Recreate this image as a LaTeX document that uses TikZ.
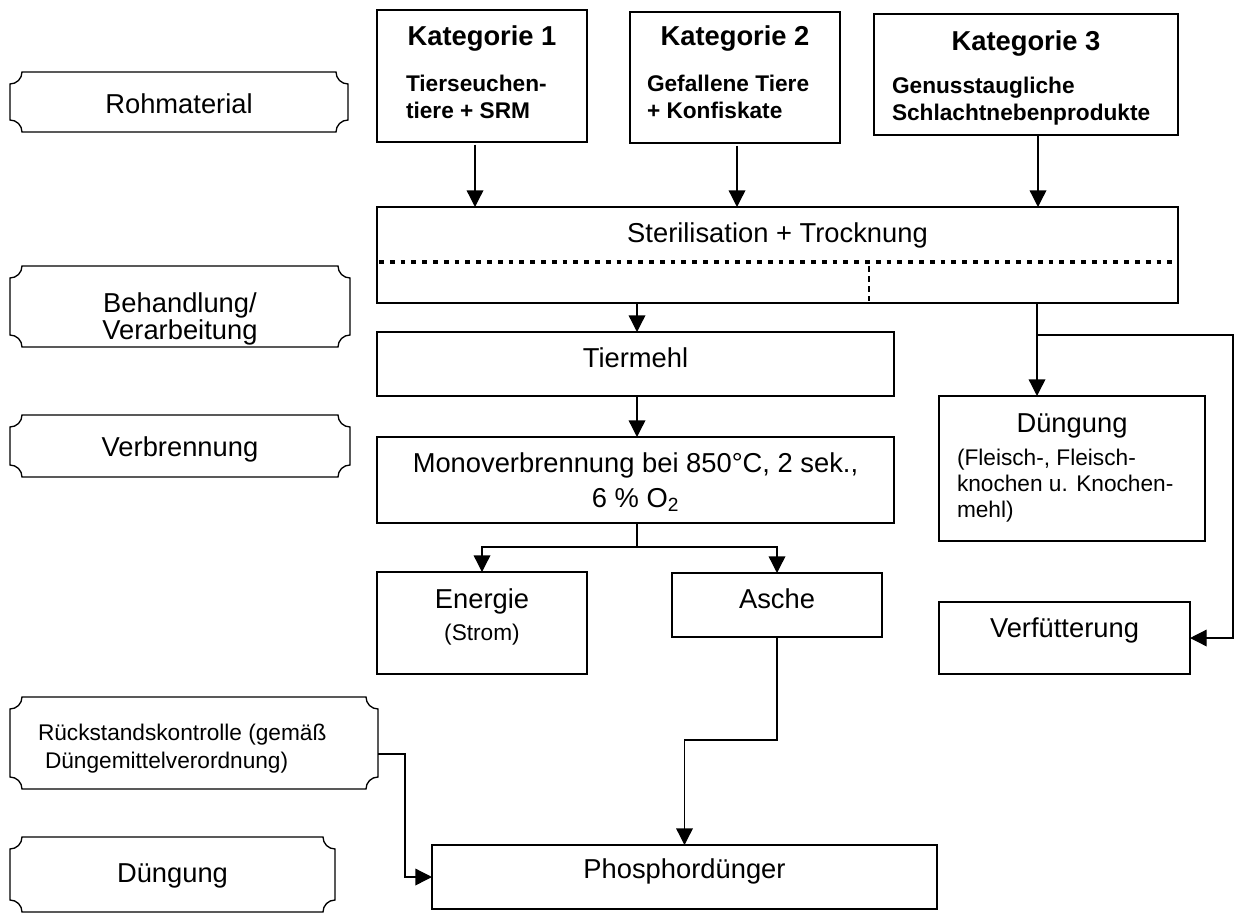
\documentclass[tikz,border=0pt]{standalone}
\usepackage{fontspec}
\setmainfont{Liberation Sans}
\usetikzlibrary{arrows.meta}
\newcommand\fN{\fontsize{20.5}{24}\selectfont}
\newcommand\fS{\fontsize{17}{20}\selectfont}
\newcommand\fT{\fontsize{20.5}{24}\selectfont\bfseries}
\newcommand\fB{\fontsize{17}{20}\selectfont\bfseries}
% centred line: #1 = distance (px) from previous baseline / top, #2 = text
\newcommand\Lc[2]{\vspace*{\dimexpr #1pt*3/4\relax}\hbox to\linewidth{\hfil\smash{#2}\hfil}}
% left line: #1 = distance (px), #2 = left inset (px), #3 = text
\newcommand\Ll[3]{\vspace*{\dimexpr #1pt*3/4\relax}\hbox to\linewidth{\kern\dimexpr #2pt*3/4\relax\smash{#3}\hfil}}
% box: [style]{name}{x1}{y1}{x2}{y2}{lines}
\newcommand\bx[7][]{%
  \pgfmathsetlengthmacro\mybw{(#5-#3)*0.75pt}%
  \pgfmathsetlengthmacro\mybh{(#6-#4)*0.75pt}%
  \node[box,#1] (#2) at ({(#3+#5)/2},{(#4+#6)/2})
    {\parbox[c][\mybh][t]{\mybw}{\offinterlineskip#7}};%
}
% plaque outline with concave corners around a node
\newcommand\plq[1]{%
  \draw[line width=1pt]
    ([xshift=9pt]#1.north west) -- ([xshift=-9pt]#1.north east)
    arc[start angle=180,end angle=270,radius=9pt]
    -- ([yshift=9pt]#1.south east)
    arc[start angle=90,end angle=180,radius=9pt]
    -- ([xshift=9pt]#1.south west)
    arc[start angle=0,end angle=90,radius=9pt]
    -- ([yshift=-9pt]#1.north west)
    arc[start angle=270,end angle=360,radius=9pt] -- cycle;}
\begin{document}
\begin{tikzpicture}[x=0.75pt,y=-0.75pt,
  box/.style={rectangle,draw,line width=1pt,inner sep=0pt,outer sep=0pt},
  plaque/.style={draw=none},
  arr/.style={line width=1pt,-{Triangle[length=12.5pt,width=12.5pt]}},
  conn/.style={line width=1pt},
  dotrow/.style={line width=3.6pt,dash pattern=on 3.6pt off 4.5pt},
  dashcol/.style={line width=2pt,dash pattern=on 4.5pt off 3pt}]
\useasboundingbox (0,0) rectangle (1234,914);

% left-hand plaques
\bx[plaque]{roh}{10}{72}{348}{132}{\Lc{41}{\fN Rohmaterial}}
\bx[plaque]{beh}{10}{266}{350}{347}{\Lc{46}{\fN Behandlung/}\Lc{27}{\fN Verarbeitung}}
\bx[plaque]{ver}{10}{415}{350}{477}{\Lc{41}{\fN Verbrennung}}
\bx[plaque]{rk}{10}{697}{378}{789}{\Ll{43}{28}{\fS Rückstandskontrolle (gemäß}\Ll{28}{35}{\fS Düngemittelverordnung)}}
\bx[plaque]{dgl}{10}{837}{335}{912}{\Lc{45}{\fN Düngung}}
\plq{roh}\plq{beh}\plq{ver}\plq{rk}\plq{dgl}

% process boxes
\bx{k1}{377}{10}{587}{142}{\Lc{35}{\fT Kategorie 1}\Ll{46}{29}{\fB Tierseuchen-}\Ll{27}{29}{\fB tiere + SRM}}
\bx{k2}{630}{12}{840}{143}{\Lc{33}{\fT Kategorie 2}\Ll{46}{17}{\fB Gefallene Tiere}\Ll{27}{17}{\fB + Konfiskate}}
\bx{k3}{874}{14}{1178}{135}{\Lc{36}{\fT Kategorie 3}\Ll{43}{18}{\fB Genusstaugliche}\Ll{27}{18}{\fB Schlachtnebenprodukte}}
\bx{st}{377}{207}{1178}{303}{\Lc{35}{\fN Sterilisation + Trocknung}}
\bx{tm}{377}{332}{894}{396}{\Lc{35}{\fN Tiermehl}}
\bx{mv}{377}{437}{894}{523}{\Lc{35}{\fN Monoverbrennung bei 850°C, 2 sek.,}\Lc{35}{\fN 6 \% O\textsubscript{2}}}
\bx{en}{377}{572}{587}{674}{\Lc{36}{\fN Energie}\Lc{32}{\fS (Strom)}}
\bx{as}{672}{573}{882}{637}{\Lc{35}{\fN Asche}}
\bx{dn}{939}{396}{1205}{541}{\Lc{36}{\fN Düngung}\Ll{33}{18}{\fS (Fleisch-, Fleisch-}\Ll{26}{18}{\fS knochen u. Knochen-}\Ll{26}{18}{\fS mehl)}}
\bx{vf}{939}{602}{1190}{674}{\Lc{35}{\fN Verfütterung}}
\bx{ph}{432}{845}{937}{909}{\Lc{33}{\fN Phosphordünger}}

% dotted separators inside the sterilisation box
\draw[dotrow] (379,262) -- (1174,262);
\draw[dashcol] (869,266) -- (869,301);

% connectors
\coordinate (a1) at (475,0);
\coordinate (a2) at (737,0);
\coordinate (a3) at (1038,0);
\coordinate (a4) at (637,0);
\draw[arr] ([yshift=-2pt]k1.south -| a1) -- (st.north -| a1);
\draw[arr] ([yshift=-2pt]k2.south -| a2) -- (st.north -| a2);
\draw[arr] (k3.south -| a3) -- (st.north -| a3);
\draw[arr] (st.south -| a4) -- (tm.north -| a4);
\draw[arr] (tm.south -| a4) -- (mv.north -| a4);

\coordinate (br) at (1037,335);
\coordinate (rc) at (1233,335);
\draw[arr] (st.south -| br) -- (dn.north -| br);
\draw[arr] (br) -- (rc) |- (vf.east);

\coordinate (sp) at (637,547);
\draw[conn] (mv.south -| sp) -- (sp);
\draw[arr] (sp) -| (en.north);
\draw[arr] (sp) -| (as.north);

\coordinate (ak) at (777,740);
\draw[arr] (as.south) -- (ak) -| (ph.north);

\coordinate (rk1) at (405,754);
\draw[arr] (rk.east |- rk1) -- (rk1) |- (ph.west);
\end{tikzpicture}
\end{document}
